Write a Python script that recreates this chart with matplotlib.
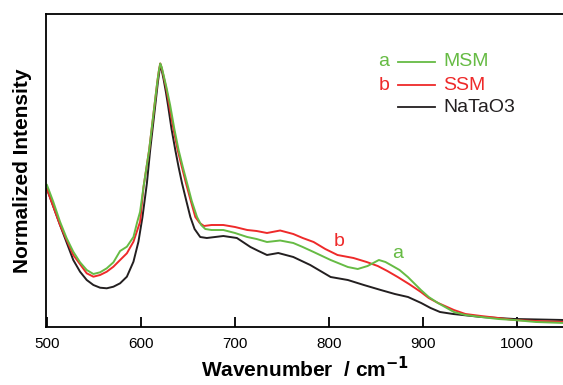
import matplotlib
matplotlib.use("Agg")
import matplotlib.pyplot as plt

plt.rcParams['font.family'] = ['Liberation Sans', 'DejaVu Sans']

# Spectra (wavenumber in cm^-1, normalized intensity in a.u.)
wn_natao3 = [500, 513.9, 528, 535.2, 542.3, 549.4, 556.5, 563.6, 570.7, 577.8, 585, 592,
             597.3, 601.6, 606.3, 609.8, 615, 618, 619.5, 620.5, 622, 624, 626.5, 628.7,
             632.5, 636.5, 640, 643.6, 648, 652.5, 657, 663, 670, 687.6, 702, 716.4, 725,
             734, 746, 762, 780, 801.7, 820, 837, 855, 870, 884, 898, 908, 918, 932, 962,
             997, 1050]
int_natao3 = [138, 102, 67, 55.3, 47, 42, 39.3, 38.7, 40.3, 43.7, 50.3, 65.3,
              85.3, 110, 143.7, 177, 220, 245, 255, 263, 257, 248, 235, 222,
              198, 177, 160, 144, 127, 110, 98, 90, 89, 91, 89, 80, 76,
              72, 74, 70, 62, 50, 47, 42, 37, 33, 30, 24, 19, 15, 13, 10,
              8, 7]

wn_msm = [500, 506.7, 513.9, 521, 528, 535.2, 542.3, 549.4, 556.5, 563.6, 570.7, 577.8,
          585, 592, 596, 599, 602.7, 608.7, 614.4, 617.5, 619, 620.5, 622, 624, 627, 631,
          635.5, 640, 644.5, 649, 654, 659.6, 664, 668.4, 675, 687.6, 700, 713, 723, 734,
          748, 762, 772, 783.6, 801.7, 820, 830.5, 841, 853, 860, 865.7, 875, 883.8,
          897.7, 906, 915.8, 932.8, 945, 961.6, 980, 996.8, 1020, 1050]
int_msm = [142, 125.3, 105.3, 88.7, 75.3, 64.7, 57, 53, 54.7, 58.7, 64.7, 76,
           80.3, 90, 105, 115, 140, 177, 222, 246, 256, 263.5, 260, 252, 240, 222,
           198, 177, 160, 144, 126, 110, 102, 98, 97, 97, 94, 90, 88, 85,
           86.5, 84, 80, 75, 67, 60, 58, 61, 67, 65, 62, 57, 50,
           37, 30, 24, 15, 12, 10, 8, 7, 5, 4]

wn_ssm = [500, 513.9, 528, 542.3, 549.4, 556.5, 563.6, 570.7, 577.8, 585, 592, 599.1,
          602.7, 608.7, 614.4, 617.5, 619, 620.5, 622, 624, 627, 630, 634.5, 639, 643.5,
          647.8, 653, 657.8, 662.5, 667, 675, 687.6, 700, 713, 723, 734, 748, 762, 772,
          783.6, 796, 809, 826, 840, 851.8, 862, 873, 885, 897.7, 906, 916, 932.8, 945,
          961.6, 980, 996.8, 1020, 1050]
int_ssm = [138, 102, 72, 53.7, 50.3, 52, 55.3, 60.3, 67, 73.7, 85.3, 105.3,
           140, 177, 222, 246, 256, 263.5, 259, 251, 238, 222, 198, 177, 160,
           144, 126, 110, 104, 101, 102, 102, 100, 97, 96, 94, 96.5, 93, 89,
           85, 78, 72, 69, 65, 61, 56, 50, 43, 35, 29, 24, 17, 13,
           11, 9, 7, 6, 5]

series_labels = ["MSM", "SSM", "NaTaO3"]
series_tags = ["a", "b", ""]
x_ticks = [500, 600, 700, 800, 900, 1000]

c_green = "#66bb44"
c_red = "#ee2a2a"
c_black = "#231f20"

fig = plt.figure(figsize=(5.63, 3.85), dpi=100)
ax = fig.add_axes([46/563, 1-327/385, 1-46/563 + 0.002, (327-14)/385])

ax.plot(wn_natao3, int_natao3, color=c_black, lw=1.4)
ax.plot(wn_ssm, int_ssm, color=c_red, lw=1.4)
ax.plot(wn_msm, int_msm, color=c_green, lw=1.4)

ax.set_xlim(499, 1050)
ax.set_ylim(0, 313)
ax.set_xticks(x_ticks)
ax.set_yticks([])
ax.spines['right'].set_visible(False)
for s in ['left', 'bottom', 'top']:
    ax.spines[s].set_linewidth(1.3)
ax.tick_params(axis='x', direction='in', length=7, width=1.3, labelsize=11, pad=7,
               top=False)

ax.set_xlabel("Wavenumber  / cm$^{\\mathbf{-1}}$", fontsize=15, fontweight='bold', labelpad=4)
ax.set_ylabel("Normalized Intensity", fontsize=15, fontweight='bold', labelpad=10)

# legend drawn manually
leg_colors = [c_green, c_red, c_black]
leg_y = [62, 85, 107]
for lab, tag, col, yp in zip(series_labels, series_tags, leg_colors, leg_y):
    yf = 1 - yp/385
    fig.add_artist(plt.Line2D([398/563, 435/563], [yf, yf], color=col, lw=1.3))
    fig.text(443/563, yf, lab, color=col, fontsize=14, va='center', ha='left')
    if tag:
        fig.text(384/563, yf, tag, color=col, fontsize=14, va='center', ha='center')

fig.text(339/563, 1-242/385, "b", color=c_red, fontsize=14, ha='center', va='center')
fig.text(398/563, 1-254/385, "a", color=c_green, fontsize=14, ha='center', va='center')

fig.savefig("out.png", dpi=100)
